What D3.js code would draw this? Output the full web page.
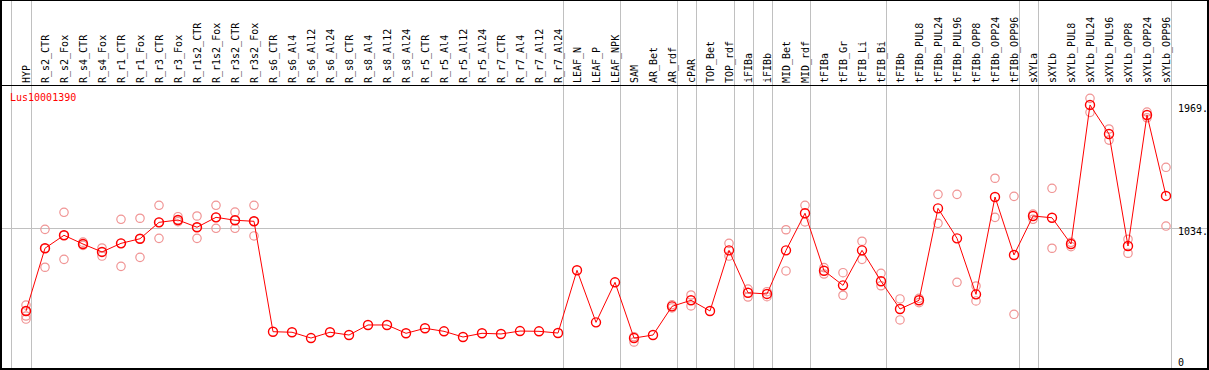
<!doctype html>
<html lang="en">
  <head>
    <meta charset="utf-8">
    <title>Lus10001390</title>
    <style>
        body { margin: 0; background: #fff; }
        text { font-family: "DejaVu Sans Mono", monospace; font-size: 10px; }
        .frame { fill: none; stroke: #000; stroke-width: 2px; }
        .sep { stroke: #c0c0c0; stroke-width: 1px; }
        .grid { stroke: #c0c0c0; stroke-width: 1px; }
        .trend { fill: none; stroke: #f00; stroke-width: 1px; }
        .mean { fill: none; stroke: #f00; stroke-width: 1.4px; }
        .rep { fill: none; stroke: #f09494; stroke-width: 1.2px; }
    </style>
  </head>
  <body>
    <svg width="1209" height="370"></svg>

    <script src="https://d3js.org/d3.v7.min.js"></script>
    <script>
        var gene = "Lus10001390";

        var samples = ["HYP", "R_s2_CTR", "R_s2_Fox", "R_s4_CTR", "R_s4_Fox", "R_r1_CTR", "R_r1_Fox",
            "R_r3_CTR", "R_r3_Fox", "R_r1s2_CTR", "R_r1s2_Fox", "R_r3s2_CTR", "R_r3s2_Fox",
            "R_s6_CTR", "R_s6_Al4", "R_s6_Al12", "R_s6_Al24", "R_s8_CTR", "R_s8_Al4", "R_s8_Al12", "R_s8_Al24",
            "R_r5_CTR", "R_r5_Al4", "R_r5_Al12", "R_r5_Al24", "R_r7_CTR", "R_r7_Al4", "R_r7_Al12", "R_r7_Al24",
            "LEAF_N", "LEAF_P", "LEAF_NPK", "SAM", "AR_Bet", "AR_rdf", "cPAR", "TOP_Bet", "TOP_rdf",
            "iFIBa", "iFIBb", "MID_Bet", "MID_rdf", "tFIBa", "tFIB_Gr", "tFIB_Li", "tFIB_Bi",
            "tFIBb", "tFIBb_PUL8", "tFIBb_PUL24", "tFIBb_PUL96", "tFIBb_OPP8", "tFIBb_OPP24", "tFIBb_OPP96",
            "sXYLa", "sXYLb", "sXYLb_PUL8", "sXYLb_PUL24", "sXYLb_PUL96", "sXYLb_OPP8", "sXYLb_OPP24", "sXYLb_OPP96"];

        var means = [409, 884, 982, 916, 856, 921, 956,
            1080, 1098, 1043, 1118, 1096, 1088,
            252, 248, 204, 248, 227, 303, 303, 240,
            278, 255, 212, 240, 235, 257, 255, 242,
            717, 323, 626, 204, 227, 444, 490, 409, 868,
            547, 538, 868, 1149, 714, 603, 868, 634,
            424, 490, 1186, 959, 535, 1272, 833,
            1128, 1115, 916, 1969, 1749, 901, 1893, 1280];

        var replicates = [[454, 409, 371, 348], [1027, 884, 740], [1156, 982, 800], [930, 916, 905], [886, 856, 825], [1103, 921, 747], [1111, 956, 815],
            [1209, 1080, 959], [1123, 1098, 1085], [1128, 1043, 959], [1209, 1118, 1035], [1158, 1096, 1035], [1209, 1088, 977],
            [], [], [], [], [], [], [], [],
            [], [], [], [], [], [], [], [],
            [], [], [], [214, 174], [], [432, 456], [530, 447], [], [921, 825],
            [575, 515], [555, 517], [1024, 712], [1209, 1083], [737, 689], [699, 528], [937, 800], [694, 600],
            [500, 341], [505, 472], [1292, 1073], [1292, 626], [598, 485], [1414, 1118], [1277, 384],
            [1143, 1103], [1338, 884], [929, 896], [2019, 1913], [1787, 1703], [952, 846], [1915, 1872], [1497, 1052]];

        // group boundaries (a separator after each of these)
        var separators = ["HYP", "R_r7_Al24", "LEAF_NPK", "AR_rdf", "cPAR", "TOP_rdf", "iFIBa", "iFIBb",
            "MID_rdf", "tFIB_Bi", "tFIBb_OPP96", "sXYLa", "sXYLb_OPP96"];

        var yTicks = [0, 1034, 1969];

        var W = 1209, H = 370, headerY = 85, bottom = 369;

        var svg = d3.select("svg");

        var x = d3.scalePoint()
            .domain(samples)
            .range([26, 1166]);
        var step = x.step();

        var y = d3.scaleLinear()
            .domain([0, 2120])
            .range([365, 85]);

        // vertical separators
        var sepX = [x(samples[0]) - step * 0.8].concat(separators.map(s => x(s) + step / 4));
        svg.append("g").selectAll("line")
            .data(sepX)
            .enter().append("line")
            .attr("class", "sep")
            .attr("x1", d => Math.round(d) + 0.5).attr("x2", d => Math.round(d) + 0.5)
            .attr("y1", 0).attr("y2", bottom);

        // horizontal reference line
        svg.append("line")
            .attr("class", "grid")
            .attr("x1", 1).attr("x2", W - 2)
            .attr("y1", Math.round(y(1034)) + 0.5).attr("y2", Math.round(y(1034)) + 0.5);

        // header line
        svg.append("line")
            .attr("x1", 0).attr("x2", W)
            .attr("y1", headerY + 0.5).attr("y2", headerY + 0.5)
            .attr("stroke", "#000");

        // frame
        svg.append("rect")
            .attr("class", "frame")
            .attr("x", 1).attr("y", 0)
            .attr("width", W - 2).attr("height", bottom);

        // sample labels
        svg.append("g").selectAll("text")
            .data(samples)
            .enter().append("text")
            .attr("transform", d => "translate(" + (x(d) + 4) + "," + (headerY - 2) + ") rotate(-90)")
            .text(d => d);

        // gene label
        svg.append("text")
            .attr("x", 10).attr("y", 101)
            .attr("fill", "#f00")
            .text(gene);

        // right axis labels
        svg.append("g").selectAll("text")
            .data(yTicks)
            .enter().append("text")
            .attr("x", 1178)
            .attr("y", d => Math.min(y(d) + 7, 366))
            .text(d => d === 0 ? "0" : d + ".");

        // replicates
        var reps = [];
        replicates.forEach((r, i) => r.forEach(v => reps.push({s: samples[i], v: v})));
        svg.append("g").selectAll("circle")
            .data(reps)
            .enter().append("circle")
            .attr("class", "rep")
            .attr("cx", d => x(d.s))
            .attr("cy", d => y(d.v))
            .attr("r", 4.2);

        // mean line
        var pts = samples.map((s, i) => ({s: s, v: means[i]}));
        svg.append("path")
            .datum(pts)
            .attr("class", "trend")
            .attr("d", d3.line().x(d => x(d.s)).y(d => y(d.v)));

        svg.append("g").selectAll("circle")
            .data(pts)
            .enter().append("circle")
            .attr("class", "mean")
            .attr("cx", d => x(d.s))
            .attr("cy", d => y(d.v))
            .attr("r", 4.5);
    </script>
  </body>
</html>
